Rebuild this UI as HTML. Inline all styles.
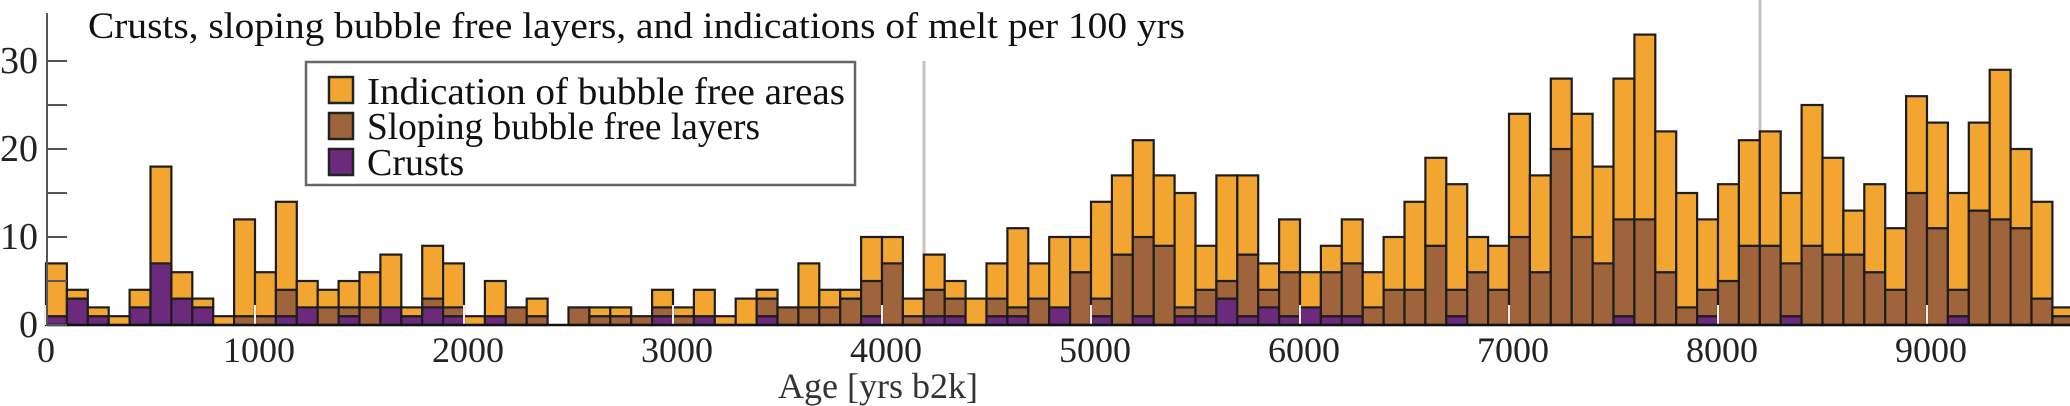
<!DOCTYPE html>
<html><head><meta charset="utf-8"><style>
html,body{margin:0;padding:0;background:#fff;}
svg{display:block;}
svg text{font-family:"Liberation Serif","Times New Roman",serif;}
</style></head><body>
<svg id="chart" width="2070" height="406" viewBox="0 0 2070 406" xmlns="http://www.w3.org/2000/svg" font-family="Liberation Serif, serif">
<rect x="0" y="0" width="2070" height="406" fill="#fff"/>
<line x1="924" y1="61" x2="924" y2="325" stroke="#c9c1bd" stroke-width="3"/>
<line x1="1760" y1="0" x2="1760" y2="325" stroke="#c9c1bd" stroke-width="3"/>
<g id="bars"></g>
<g id="xticks"></g>
<line x1="47" y1="325" x2="2070" y2="325" stroke="#111" stroke-width="2.5"/>
<line x1="47" y1="13" x2="47" y2="326" stroke="#555" stroke-width="2"/>
<g id="yticks"></g>
<text x="88" y="38" font-size="37" fill="#111" textLength="1097" lengthAdjust="spacingAndGlyphs">Crusts, sloping bubble free layers, and indications of melt per 100 yrs</text>
<text x="878" y="398" font-size="36" fill="#333" text-anchor="middle">Age [yrs b2k]</text>
<g>
<rect x="306" y="62" width="549" height="123" fill="#fff" stroke="#666" stroke-width="2.5"/>
<rect x="329" y="77" width="24" height="26" fill="#f2a631" stroke="#222" stroke-width="2.5"/>
<text x="367" y="104" font-size="38" fill="#111" textLength="478" lengthAdjust="spacingAndGlyphs">Indication of bubble free areas</text>
<rect x="329" y="113" width="24" height="26" fill="#a0643c" stroke="#222" stroke-width="2.5"/>
<text x="367" y="139" font-size="38" fill="#111" textLength="393" lengthAdjust="spacingAndGlyphs">Sloping bubble free layers</text>
<rect x="329" y="149" width="24" height="26" fill="#6b2a7b" stroke="#222" stroke-width="2.5"/>
<text x="367" y="175" font-size="38" fill="#111">Crusts</text>
</g>
</svg>
<script>
const binStarts = Array.from({length:97}, (_, i) => i * 100);
const crusts = [1,3,1,0,2,7,3,2,0,0,0,1,2,0,1,0,2,1,2,1,0,1,0,0,0,0,0,0,0,1,0,1,0,0,1,0,0,0,0,1,0,0,1,1,0,1,1,0,2,0,1,0,1,0,1,1,3,1,2,1,2,1,1,0,0,0,0,1,0,0,0,0,0,0,0,1,0,0,0,1,0,0,0,1,0,0,0,0,0,0,0,1,0,0,0,0,0];
const slopingTop = [1,3,1,0,2,7,3,2,0,1,1,4,2,2,2,2,2,1,3,2,0,1,2,1,0,2,1,1,1,2,1,1,0,0,3,2,2,2,3,5,7,1,4,3,0,3,2,3,2,6,3,8,10,9,2,4,5,8,4,6,2,6,7,2,4,4,9,4,6,4,10,6,20,10,7,12,12,6,2,4,5,9,9,7,9,8,8,6,4,15,11,4,13,12,11,3,1];
const totals = [7,4,2,1,4,18,6,3,1,12,6,14,5,4,5,6,8,2,9,7,1,5,2,3,0,2,2,2,1,4,2,4,1,3,4,2,7,4,4,10,10,3,8,5,3,7,11,7,10,10,14,17,21,17,15,9,17,17,7,12,6,9,12,6,10,14,19,16,10,9,24,17,28,24,18,28,33,22,15,12,16,21,22,15,25,19,13,16,11,26,23,15,23,29,20,14,2];
const sloping = slopingTop.map((v,i)=>v-crusts[i]);
const bubbleFree = totals.map((v,i)=>v-slopingTop[i]);
const yTicks = [0,5,10,15,20,25,30];
const yTickLabels = ["0","","10","","20","","30"];
const xTicks = [0,1000,2000,3000,4000,5000,6000,7000,8000,9000];
const xTickLabels = ["0","1000","2000","3000","4000","5000","6000","7000","8000","9000"];

const NS="http://www.w3.org/2000/svg";
const X0=46, PXPERYR=0.209, Y0=325, PXPERUNIT=8.8;
function xs(yr){return X0+yr*PXPERYR;}
function ys(v){return Y0-v*PXPERUNIT;}
const bars=document.getElementById('bars');
const colors=["#6b2a7b","#a0643c","#f2a631"];
const layerNames=["crusts","sloping","bubble-free"];
binStarts.forEach((b,i)=>{
  const segs=[crusts[i],sloping[i],bubbleFree[i]];
  let base=0;
  segs.forEach((v,k)=>{
    if(v<=0) return;
    const r=document.createElementNS(NS,'rect');
    const x=xs(b), w=xs(b+100)-xs(b);
    r.setAttribute('x',x);r.setAttribute('width',w);
    r.setAttribute('y',ys(base+v));r.setAttribute('height',ys(base)-ys(base+v));
    r.setAttribute('fill',colors[k]);r.setAttribute('stroke','#1d1d1d');r.setAttribute('stroke-width','2.2');
    
    
    bars.appendChild(r);
    base+=v;
  });
});
const xt=document.getElementById('xticks');
xTicks.forEach((t,i)=>{
  const l=document.createElementNS(NS,'line');
  l.setAttribute('x1',xs(t));l.setAttribute('x2',xs(t));l.setAttribute('y1',Y0);l.setAttribute('y2',Y0-20);
  l.setAttribute('stroke','#f0eeee');l.setAttribute('stroke-width','2');
  
  
  xt.appendChild(l);
  const tx=document.createElementNS(NS,'text');
  tx.setAttribute('x',xs(t)+(t===0?0:4));tx.setAttribute('y',362);tx.setAttribute('font-size','36');
  tx.setAttribute('font-family','Liberation Serif, serif');
  tx.setAttribute('text-anchor','middle');tx.setAttribute('fill','#222');
  tx.textContent=xTickLabels[i];
  
  
  xt.appendChild(tx);
});
const yt=document.getElementById('yticks');
yTicks.forEach((t,i)=>{
  const l=document.createElementNS(NS,'line');
  l.setAttribute('x1',47);l.setAttribute('x2',67);l.setAttribute('y1',ys(t));l.setAttribute('y2',ys(t));
  l.setAttribute('stroke','#555');l.setAttribute('stroke-width','2');
  
  
  yt.appendChild(l);
  if(yTickLabels[i]){
    const tx=document.createElementNS(NS,'text');
    tx.setAttribute('x',38);tx.setAttribute('y',ys(t)+12);tx.setAttribute('font-size','38');
    tx.setAttribute('font-family','Liberation Serif, serif');
    tx.setAttribute('text-anchor','end');tx.setAttribute('fill','#222');
    tx.textContent=yTickLabels[i];
    
    
    yt.appendChild(tx);
  }
});
</script>
</body></html>
